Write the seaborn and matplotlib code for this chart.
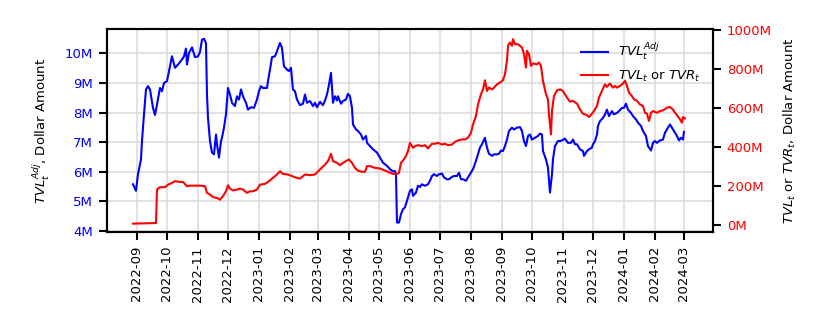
import pandas as pd
import seaborn as sns
import matplotlib.pyplot as plt
import matplotlib.dates as mdates
from matplotlib.ticker import FuncFormatter, MultipleLocator

# days since 2022-09-01, values in million dollars
start = pd.Timestamp("2022-09-01")

adj_days = [-4, -1, 1, 4, 5, 7, 9, 11, 13, 16, 18, 20, 23, 25, 27, 30, 32, 35, 38, 41,
            45, 47, 49, 50, 52, 55, 58, 61, 63, 65, 67, 69, 70, 71, 73, 75, 77, 79, 80, 82,
            84, 85, 87, 89, 91, 93, 95, 98, 100, 102, 104, 106, 109, 111, 114, 117, 120, 122, 124, 126,
            130, 131, 133, 135, 138, 140, 143, 145, 147, 150, 152, 154, 156, 158, 160, 163, 166, 168, 170, 173,
            176, 178, 180, 183, 186, 188, 190, 192, 194, 195, 196, 198, 200, 201, 204, 206, 209, 211, 213, 215,
            216, 219, 221, 224, 226, 229, 230, 233, 236, 240, 243, 246, 250, 253, 256, 258, 259, 260, 262, 264,
            266, 268, 270, 273, 275, 276, 279, 281, 283, 285, 288, 291, 293, 295, 297, 300, 302, 305, 307, 310,
            312, 315, 317, 320, 322, 324, 326, 329, 331, 334, 336, 339, 341, 343, 345, 348, 350, 352, 355, 357,
            360, 362, 364, 366, 368, 370, 372, 375, 377, 380, 383, 385, 387, 389, 391, 393, 395, 398, 401, 403,
            405, 406, 409, 411, 413, 415, 416, 418, 421, 423, 425, 428, 431, 434, 436, 438, 440, 443, 446, 447,
            450, 452, 455, 456, 458, 460, 461, 463, 466, 468, 470, 472, 475, 477, 480, 482, 485, 487, 489, 491,
            494, 496, 499, 501, 504, 506, 509, 511, 514, 516, 518, 520, 523, 526, 528, 530, 533, 535, 538, 540,
            542, 544, 546, 547]
adj_tvl = [5.58, 5.36, 5.92, 6.42, 7.04, 7.94, 8.78, 8.89, 8.78, 8.16, 7.92, 8.27, 8.83, 8.72, 9.00, 9.06, 9.40, 9.90, 9.51, 9.62,
           9.79, 9.90, 10.16, 9.62, 10.01, 10.20, 9.87, 9.90, 10.04, 10.46, 10.49, 10.35, 8.61, 7.82, 7.04, 6.65, 6.59, 7.26, 6.93, 6.48,
           7.04, 7.15, 7.49, 7.94, 8.83, 8.61, 8.33, 8.22, 8.55, 8.44, 8.78, 8.55, 8.33, 8.10, 8.18, 8.16, 8.44, 8.72, 8.89, 8.83,
           8.83, 9.06, 9.45, 9.87, 9.90, 10.07, 10.35, 10.18, 9.56, 9.45, 9.40, 9.51, 8.78, 8.72, 8.44, 8.25, 8.30, 8.61, 8.33, 8.39,
           8.22, 8.33, 8.18, 8.36, 8.25, 8.41, 8.61, 8.94, 9.34, 8.83, 8.33, 8.55, 8.41, 8.55, 8.30, 8.39, 8.44, 8.63, 8.55, 8.16,
           7.60, 7.43, 7.38, 7.26, 7.09, 7.21, 6.98, 6.87, 6.76, 6.65, 6.48, 6.31, 6.20, 6.09, 6.01, 6.03, 5.92, 4.29, 4.29, 4.57,
           4.74, 4.80, 5.02, 5.36, 5.41, 5.19, 5.30, 5.53, 5.49, 5.58, 5.53, 5.58, 5.70, 5.86, 5.92, 5.86, 5.92, 5.94, 5.81, 5.75,
           5.75, 5.83, 5.86, 5.86, 5.97, 5.75, 5.75, 5.70, 5.81, 5.97, 6.09, 6.37, 6.59, 6.82, 6.93, 7.15, 6.82, 6.61, 6.54, 6.59,
           6.59, 6.61, 6.72, 6.70, 6.87, 7.09, 7.38, 7.49, 7.43, 7.49, 7.51, 7.38, 7.04, 6.87, 7.21, 7.26, 7.09, 7.15, 7.21, 7.29,
           7.26, 6.70, 6.42, 6.14, 5.30, 5.92, 6.42, 6.87, 7.04, 7.04, 7.06, 7.12, 6.98, 6.98, 7.09, 6.93, 6.93, 6.76, 6.70, 6.54,
           6.70, 6.76, 6.82, 6.93, 7.04, 7.26, 7.55, 7.71, 7.82, 7.94, 8.10, 7.88, 8.05, 7.94, 7.99, 8.05, 8.16, 8.16, 8.30, 8.10,
           7.99, 7.88, 7.77, 7.66, 7.55, 7.38, 7.21, 6.87, 6.72, 6.98, 7.04, 6.98, 7.06, 7.09, 7.32, 7.43, 7.60, 7.49, 7.32, 7.21,
           7.06, 7.15, 7.09, 7.35]

tvl_days = [-4, 19, 20, 23, 28, 31, 35, 38, 43, 46, 50, 53, 58, 63, 68, 70, 73, 76, 80, 83,
            86, 89, 91, 93, 96, 100, 103, 106, 110, 113, 116, 120, 123, 128, 131, 136, 140, 143, 146, 151,
            155, 158, 163, 168, 173, 178, 183, 188, 191, 194, 196, 200, 203, 206, 210, 212, 215, 218, 221, 225,
            228, 230, 233, 238, 243, 248, 253, 256, 260, 262, 264, 266, 269, 271, 273, 276, 278, 281, 285, 288,
            291, 295, 298, 301, 305, 308, 311, 315, 318, 321, 325, 328, 331, 334, 336, 339, 341, 344, 346, 348,
            350, 352, 355, 357, 360, 363, 366, 368, 370, 371, 373, 375, 376, 378, 381, 383, 385, 387, 389, 390,
            392, 394, 396, 400, 402, 404, 406, 409, 411, 412, 414, 415, 417, 420, 423, 426, 430, 433, 436, 440,
            443, 446, 450, 452, 455, 457, 460, 462, 465, 468, 470, 473, 476, 478, 480, 483, 486, 488, 490, 492,
            495, 497, 500, 503, 506, 508, 510, 512, 514, 516, 520, 523, 526, 530, 533, 536, 538, 540, 543, 545,
            546, 548]
tvl_tvr = [7, 10, 182, 194, 194, 207, 216, 225, 221, 221, 199, 202, 202, 202, 199, 165, 156, 143, 139, 130,
           148, 173, 204, 187, 177, 182, 187, 182, 165, 173, 173, 182, 207, 211, 221, 242, 259, 276, 262, 259,
           251, 245, 238, 259, 256, 259, 285, 310, 328, 365, 328, 319, 307, 319, 331, 336, 319, 293, 279, 273,
           273, 302, 302, 293, 290, 279, 268, 262, 262, 268, 319, 331, 354, 379, 422, 396, 405, 410, 405, 410,
           393, 417, 417, 422, 413, 417, 410, 413, 427, 434, 439, 439, 448, 473, 516, 559, 619, 671, 696, 743,
           688, 705, 696, 705, 722, 731, 743, 774, 843, 920, 937, 920, 954, 928, 928, 920, 911, 877, 808, 894,
           877, 817, 829, 825, 834, 817, 740, 671, 645, 568, 465, 585, 662, 691, 696, 688, 654, 633, 637, 623,
           593, 571, 564, 554, 571, 585, 611, 654, 688, 722, 709, 726, 705, 714, 705, 714, 726, 740, 714, 679,
           662, 645, 637, 619, 611, 576, 571, 534, 576, 585, 576, 585, 588, 602, 606, 593, 576, 564, 542, 525,
           554, 547]

adj = pd.DataFrame({"date": start + pd.to_timedelta(adj_days, unit="D"), "value": adj_tvl})
tvl = pd.DataFrame({"date": start + pd.to_timedelta(tvl_days, unit="D"), "value": tvl_tvr})

plt.rcParams["font.size"] = 9.5
fig = plt.figure(figsize=(8.3, 3.32), dpi=100)
ax = fig.add_axes([0.1289, 0.3012, 0.7301, 0.6114])
ax2 = ax.twinx()

sns.lineplot(data=adj, x="date", y="value", ax=ax, color="blue", linewidth=1.5,
             estimator=None, sort=False, label=r"$TVL_t^{Adj}$", legend=False)
sns.lineplot(data=tvl, x="date", y="value", ax=ax2, color="red", linewidth=1.5,
             estimator=None, sort=False, label=r"$TVL_t$ or $TVR_t$", legend=False)

ax.set_xlim(start - pd.Timedelta(days=30), start + pd.Timedelta(days=576))
ax.set_ylim(3.97, 10.82)
ax2.set_ylim(-36, 1006)
ax.yaxis.set_major_locator(MultipleLocator(1))
ax2.yaxis.set_major_locator(MultipleLocator(200))
fmt = FuncFormatter(lambda v, p: f"{v:.0f}M")
ax.yaxis.set_major_formatter(fmt)
ax2.yaxis.set_major_formatter(fmt)
ax.xaxis.set_major_locator(mdates.MonthLocator())
ax.xaxis.set_major_formatter(mdates.DateFormatter("%Y-%m"))
for lab in ax.get_xticklabels():
    lab.set_rotation(90)

ax.grid(True, color="#dddddd", linewidth=1.2)
ax.set_axisbelow(True)
ax.tick_params(axis="y", colors="black", labelcolor="blue", length=6, width=1.5, pad=4)
ax.tick_params(axis="x", length=6, width=1.5, pad=4)
ax2.tick_params(axis="y", labelcolor="red", length=6, width=1.5, pad=4)
for a in (ax, ax2):
    for s in a.spines.values():
        s.set_linewidth(1.5)
        s.set_color("black")

ax.set_xlabel("")
ax.set_ylabel(r"$TVL_t^{Adj}$, Dollar Amount", labelpad=9)
ax2.set_ylabel(r"$TVL_t$ or $TVR_t$, Dollar Amount", labelpad=7)

h1, l1 = ax.get_legend_handles_labels()
h2, l2 = ax2.get_legend_handles_labels()
ax2.legend(h1 + h2, l1 + l2, loc="upper right", frameon=False)

fig.savefig("out.png", dpi=100)
